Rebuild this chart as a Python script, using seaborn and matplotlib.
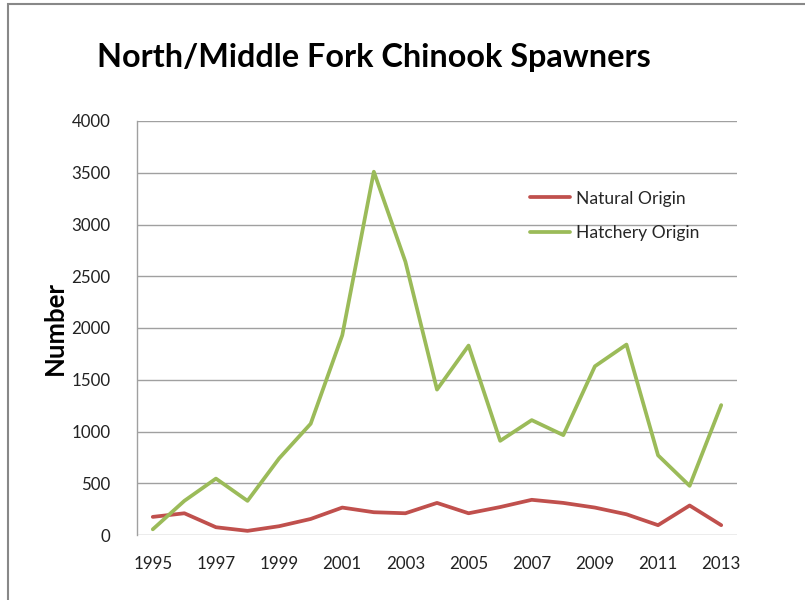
import matplotlib
matplotlib.use("Agg")
import matplotlib.pyplot as plt
import seaborn as sns
import pandas as pd
from matplotlib.patches import Rectangle

years = list(range(1995, 2014))
natural = [175, 210, 75, 40, 85, 155, 265, 220, 210, 310, 210, 270, 340, 310, 265, 200, 95, 285, 95]
hatchery = [55, 330, 545, 330, 740, 1075, 1930, 3510, 2640, 1405, 1830, 910, 1110, 965, 1630, 1840, 770, 475, 1255]
series_names = ["Natural Origin", "Hatchery Origin"]
colors = ["#C0504D", "#9BBB59"]
title = "North/Middle Fork Chinook Spawners"
ylabel = "Number"

df = pd.DataFrame({
    "Year": years * 2,
    "Value": natural + hatchery,
    "Series": [series_names[0]] * len(years) + [series_names[1]] * len(years),
})

sns.set_theme(style="white")
plt.rcParams["font.family"] = ["Lato", "DejaVu Sans"]

fig = plt.figure(figsize=(8.05, 6.0), dpi=100)
ax = fig.add_axes([137 / 805, 65 / 600, 600 / 805, 414 / 600])

sns.lineplot(data=df, x="Year", y="Value", hue="Series", palette=colors,
             linewidth=2.7, ax=ax, legend=True)

ax.set_xlim(1994.5, 2013.5)
ax.set_ylim(0, 4000)
ax.set_yticks(range(0, 4001, 500))
ax.set_xticks(years[::2])
ax.set_xticklabels([str(y) for y in years[::2]])
ax.yaxis.grid(True, color="#A0A0A0", linewidth=1.0)
ax.set_axisbelow(True)
for s in ["top", "right", "bottom"]:
    ax.spines[s].set_visible(False)
ax.spines["left"].set_color("#A0A0A0")
ax.spines["left"].set_linewidth(1.0)
ax.tick_params(axis="both", labelsize=12.2, colors="#222222", length=0)
ax.tick_params(axis="x", pad=15)
ax.tick_params(axis="y", pad=19)
ax.set_xlabel("")
ax.set_ylabel(ylabel, fontsize=18.5, fontweight="bold", color="black", labelpad=3)

leg = ax.legend(loc="center left", bbox_to_anchor=(0.655, 0.771), frameon=False,
                fontsize=12.6, handlelength=2.3, handletextpad=0.3, labelspacing=1.05,
                borderaxespad=0, borderpad=0)
for line in leg.get_lines():
    line.set_linewidth(2.7)

fig.text(97 / 805, 1 - 57 / 600, title, fontsize=23.3, fontweight="bold",
         ha="left", va="center", color="black")

fig.patches.append(Rectangle((8 / 805, -0.1), 1.0, 1.1 - 4 / 600,
                             transform=fig.transFigure, fill=False,
                             edgecolor="#888888", linewidth=1.5))

fig.savefig("out.png", dpi=100)
